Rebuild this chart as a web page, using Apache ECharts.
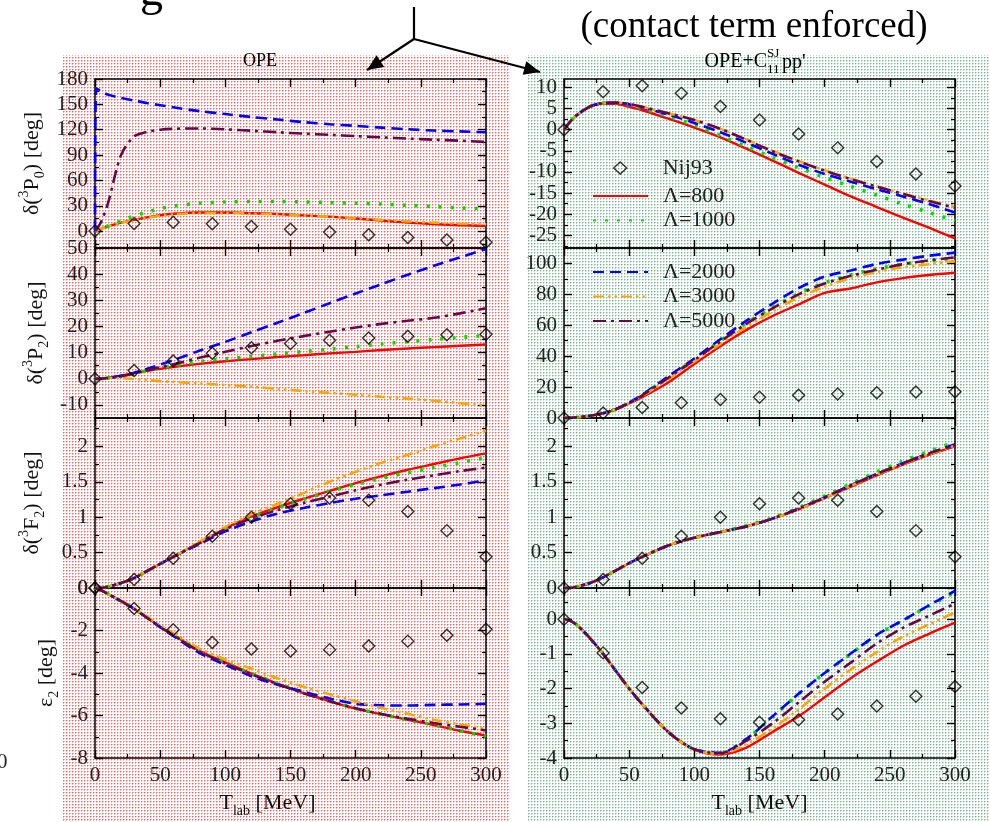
<!DOCTYPE html>
<html><head><meta charset="utf-8">
<script src="https://cdn.jsdelivr.net/npm/echarts@6/dist/echarts.min.js"></script>
<style>html,body{margin:0;padding:0;background:#fff}#c{width:990px;height:822px}</style>
</head><body><div id="c"></div>
<script>
// ---------------- DATA ----------------
const T = [0,1,5,10,20,30,40,50,60,80,100,120,140,160,180,200,220,240,260,280,300];
const T_NIJ = [0,30,60,90,120,150,180,210,240,270,300];
const CUTOFF_NAMES = ['Λ=800','Λ=1000','Λ=2000','Λ=3000','Λ=5000'];
const NIJ_NAME = 'Nij93';

const NIJ93_3P0 = [0, 9.0, 10.4, 8.6, 5.5, 2.3, -1.0, -4.3, -7.5, -10.5, -13.3];
const NIJ93_3P2 = [0, 3.2, 6.8, 9.8, 11.9, 13.5, 14.7, 15.6, 16.3, 16.8, 17.0];
const NIJ93_3F2 = [0, 0.12, 0.42, 0.73, 1.0, 1.19, 1.27, 1.24, 1.08, 0.81, 0.44];
const NIJ93_E2  = [0, -0.97, -1.97, -2.56, -2.87, -2.97, -2.9, -2.73, -2.5, -2.22, -1.94];

// OPE (left column)
const OPE_3P0_800  = [0,0.6,3,5.5,10,13.2,16.3,18.8,20.5,22,22,21.2,20.2,18.6,17.1,14.9,12.4,10.2,8.3,7,6];
const OPE_3P0_1000 = [0,0.6,3,6,12,18,22.5,26.5,29.5,33,34.5,35,35,34.5,33.7,33,32,30.5,29,27.5,26.2];
const OPE_3P0_2000 = [0,169,165,161.5,157.5,154.5,151.5,149,146.5,142,138.5,135,132,129,126.5,124.5,122.5,120.5,119,118,117];
const OPE_3P0_3000 = [0,0.6,3,5.5,9.8,13,15.8,18.2,19.8,21.3,21.3,20.7,19.8,18.5,17,15.3,13.3,11.5,10,8.8,8.2];
const OPE_3P0_5000 = [0,1.5,12,33,90,112,117.5,120,121,121.5,120.5,118.8,117,115.4,113.9,112.4,111,109.5,108.2,107,105.5];

const OPE_3P2_800  = [0,0,0.1,0.4,1.2,2.2,3.0,3.8,4.5,5.7,6.7,7.5,8.3,9.0,9.7,10.3,11.0,11.6,12.1,12.6,13.1];
const OPE_3P2_1000 = [0,0,0.1,0.3,1.0,2.0,3.1,4.1,5.0,6.6,7.6,8.5,9.5,10.4,11.3,12.3,13.3,14.2,15.0,15.8,16.5];
const OPE_3P2_2000 = [0,0,0.1,0.3,1.1,2.3,3.8,5.4,7.1,10.7,14.1,17.8,21.4,25.1,28.9,32.6,36.2,39.8,43.2,46.4,49.6];
const OPE_3P2_3000 = [0,0,0.2,0.3,0.2,-0.1,-0.5,-0.9,-1.2,-1.8,-2.4,-3.0,-3.9,-4.7,-5.4,-6.1,-6.9,-7.6,-8.4,-9.3,-10.2];
const OPE_3P2_5000 = [0,0,0.1,0.3,1.0,2.0,3.2,4.4,5.5,8.0,10.3,12.5,14.5,16.3,18.0,19.6,21.0,22.2,23.3,25.0,27.0];

const OPE_3F2_800  = [0,0,0,0.02,0.07,0.14,0.24,0.34,0.44,0.64,0.84,1.01,1.14,1.26,1.37,1.48,1.58,1.67,1.75,1.83,1.9];
const OPE_3F2_1000 = [0,0,0,0.02,0.07,0.14,0.24,0.34,0.44,0.64,0.84,1.0,1.13,1.25,1.36,1.46,1.55,1.63,1.7,1.77,1.84];
const OPE_3F2_2000 = [0,0,0,0.02,0.07,0.14,0.24,0.34,0.44,0.62,0.8,0.94,1.05,1.13,1.2,1.26,1.31,1.36,1.41,1.46,1.52];
const OPE_3F2_3000 = [0,0,0,0.02,0.07,0.14,0.24,0.34,0.44,0.65,0.86,1.04,1.19,1.34,1.5,1.64,1.77,1.88,2.0,2.11,2.22];
const OPE_3F2_5000 = [0,0,0,0.02,0.07,0.14,0.24,0.34,0.44,0.63,0.83,0.98,1.1,1.2,1.29,1.38,1.46,1.53,1.59,1.65,1.7];

const OPE_E2_800  = [0,-0.02,-0.12,-0.28,-0.62,-0.98,-1.4,-1.82,-2.2,-2.95,-3.5,-4.03,-4.5,-4.95,-5.33,-5.68,-5.95,-6.2,-6.45,-6.72,-6.95];
const OPE_E2_1000 = [0,-0.02,-0.12,-0.28,-0.62,-0.98,-1.4,-1.82,-2.2,-2.95,-3.5,-4.02,-4.48,-4.93,-5.32,-5.67,-5.95,-6.2,-6.45,-6.72,-6.98];
const OPE_E2_2000 = [0,-0.02,-0.12,-0.28,-0.62,-0.98,-1.4,-1.84,-2.25,-3.05,-3.62,-4.15,-4.55,-4.88,-5.2,-5.45,-5.52,-5.53,-5.5,-5.48,-5.45];
const OPE_E2_3000 = [0,-0.02,-0.12,-0.28,-0.6,-0.95,-1.35,-1.76,-2.12,-2.85,-3.35,-3.8,-4.25,-4.65,-5.0,-5.33,-5.65,-5.92,-6.2,-6.42,-6.62];
const OPE_E2_5000 = [0,-0.02,-0.12,-0.28,-0.62,-0.98,-1.4,-1.84,-2.22,-2.98,-3.55,-4.07,-4.52,-4.95,-5.33,-5.66,-5.93,-6.15,-6.35,-6.53,-6.7];

// OPE + C11 pp' (right column)
const CT_3P0_800  = [0,0.4,2.0,3.5,5.4,6.2,6.1,5.4,4.6,2.6,0.5,-1.8,-4.5,-7.3,-10.2,-13.0,-15.8,-18.3,-20.8,-23.2,-25.7];
const CT_3P0_1000 = [0,0.4,2.0,3.5,5.5,6.3,6.4,5.9,5.0,3.2,1.1,-1.4,-4.0,-6.6,-9.0,-11.3,-13.4,-15.5,-17.6,-19.6,-21.5];
const CT_3P0_2000 = [0,0.4,2.0,3.5,5.5,6.3,6.4,6.0,5.2,3.6,1.6,-0.6,-3.1,-5.7,-8.3,-10.5,-12.3,-14.1,-15.8,-17.6,-19.6];
const CT_3P0_3000 = [0,0.4,2.0,3.5,5.5,6.3,6.4,6.1,5.4,3.9,2.3,0.2,-2.3,-5.0,-7.4,-9.6,-11.6,-13.4,-15.1,-16.7,-18.3];
const CT_3P0_5000 = [0,0.4,2.0,3.5,5.5,6.3,6.4,6.1,5.4,3.9,2.3,0.2,-2.4,-5.1,-7.5,-9.7,-11.7,-13.5,-15.2,-16.9,-18.5];

const CT_3P2_800  = [0,0,0.1,0.4,1.4,3.0,5.6,9.4,13.5,23,35,46.5,57,66,73.5,81,83.8,87.8,90.5,92.5,94];
const CT_3P2_1000 = [0,0,0.1,0.4,1.4,3.1,5.8,9.9,14.8,26.5,37.8,50,61.5,71.5,80.5,87.5,92.5,96.5,99.5,101.5,103.5];
const CT_3P2_2000 = [0,0,0.1,0.4,1.4,3.1,5.9,10,15,27,38.5,51,63,74,84,91.5,95.5,99.7,102.5,105,107];
const CT_3P2_3000 = [0,0,0.1,0.4,1.4,3.0,5.7,9.6,14.3,25,36.5,48,59,69,78,85,90.5,94.5,97.5,99.5,101.5];
const CT_3P2_5000 = [0,0,0.1,0.4,1.4,3.1,5.8,9.8,14.7,26,37.5,49.5,61,71,80,87,92,96,99.5,102,104];

const CT_3F2_800  = [0,0,0,0.02,0.07,0.15,0.25,0.35,0.44,0.6,0.71,0.79,0.87,0.98,1.11,1.27,1.43,1.59,1.74,1.88,2.0];
const CT_3F2_1000 = [0,0,0,0.02,0.07,0.15,0.25,0.35,0.44,0.6,0.71,0.79,0.88,0.99,1.13,1.3,1.47,1.64,1.79,1.93,2.06];
const CT_3F2_2000 = [0,0,0,0.02,0.07,0.15,0.25,0.35,0.44,0.6,0.71,0.79,0.87,0.98,1.12,1.28,1.45,1.61,1.76,1.9,2.03];
const CT_3F2_3000 = [0,0,0,0.02,0.07,0.15,0.25,0.35,0.44,0.6,0.71,0.79,0.87,0.98,1.11,1.27,1.44,1.6,1.75,1.89,2.01];
const CT_3F2_5000 = [0,0,0,0.02,0.07,0.15,0.25,0.35,0.44,0.6,0.71,0.79,0.87,0.98,1.12,1.28,1.45,1.61,1.76,1.9,2.02];

const CT_E2_800  = [0,0,-0.05,-0.17,-0.55,-1.0,-1.5,-2.0,-2.45,-3.25,-3.76,-3.9,-3.7,-3.25,-2.8,-2.25,-1.7,-1.22,-0.77,-0.42,-0.1];
const CT_E2_1000 = [0,0,-0.05,-0.17,-0.55,-1.0,-1.5,-2.0,-2.45,-3.25,-3.75,-3.85,-3.45,-2.82,-2.15,-1.55,-1.0,-0.46,-0.04,0.38,0.78];
const CT_E2_2000 = [0,0,-0.05,-0.17,-0.55,-1.0,-1.5,-2.0,-2.45,-3.25,-3.75,-3.85,-3.45,-2.8,-2.15,-1.55,-0.99,-0.45,-0.03,0.4,0.82];
const CT_E2_3000 = [0,0,-0.05,-0.17,-0.55,-1.0,-1.5,-2.0,-2.45,-3.25,-3.76,-3.88,-3.6,-3.15,-2.6,-2.0,-1.45,-0.95,-0.5,-0.15,0.2];
const CT_E2_5000 = [0,0,-0.05,-0.17,-0.55,-1.0,-1.5,-2.0,-2.45,-3.25,-3.75,-3.86,-3.5,-3.0,-2.4,-1.8,-1.25,-0.7,-0.25,0.1,0.45];

// axis tick values
const Y_RANGE_L = [[-20,180],[-15,50],[0,2.4],[-8,0]];
const Y_RANGE_R = [[-28,12],[0,110],[0,2.4],[-4,0.9]];
const Y_MAJOR_L = [[0,30,60,90,120,150,180],[-10,0,10,20,30,40,50],[0,0.5,1,1.5,2],[-8,-6,-4,-2,0]];
const Y_MINOR_L = [[-15,15,45,75,105,135,165],[-5,5,15,25,35,45],[0.25,0.75,1.25,1.75,2.25],[-7,-5,-3,-1]];
const Y_MAJOR_R = [[-25,-20,-15,-10,-5,0,5,10],[0,20,40,60,80,100],[0,0.5,1,1.5,2],[-4,-3,-2,-1,0]];
const Y_MINOR_R = [[-27.5,-22.5,-17.5,-12.5,-7.5,-2.5,2.5,7.5],[10,30,50,70,90],[0.25,0.75,1.25,1.75,2.25],[-3.5,-2.5,-1.5,-0.5,0.5]];

// ---------------- LAYOUT / STYLE ----------------
const FONT = 'Liberation Serif';
const GRID_X = [95, 564], GRID_W = 391;
const ROW_Y = [79, 248, 418, 588], ROW_H = [169, 170, 170, 170];
const STY = [
  {color:'#ff0000', type:'solid', width:2.4},
  {color:'#00e000', type:[3,9], width:3.6},
  {color:'#0000ff', type:[11,6], width:2.6},
  {color:'#ffa500', type:[11,4,2.5,4,2.5,4], width:2.6},
  {color:'#670748', type:[13,5,3,5], width:2.6}
];

const LEFT_SETS = [
  [OPE_3P0_800,OPE_3P0_1000,OPE_3P0_2000,OPE_3P0_3000,OPE_3P0_5000],
  [OPE_3P2_800,OPE_3P2_1000,OPE_3P2_2000,OPE_3P2_3000,OPE_3P2_5000],
  [OPE_3F2_800,OPE_3F2_1000,OPE_3F2_2000,OPE_3F2_3000,OPE_3F2_5000],
  [OPE_E2_800,OPE_E2_1000,OPE_E2_2000,OPE_E2_3000,OPE_E2_5000]
];
const RIGHT_SETS = [
  [CT_3P0_800,CT_3P0_1000,CT_3P0_2000,CT_3P0_3000,CT_3P0_5000],
  [CT_3P2_800,CT_3P2_1000,CT_3P2_2000,CT_3P2_3000,CT_3P2_5000],
  [CT_3F2_800,CT_3F2_1000,CT_3F2_2000,CT_3F2_3000,CT_3F2_5000],
  [CT_E2_800,CT_E2_1000,CT_E2_2000,CT_E2_3000,CT_E2_5000]
];
const NIJ_SETS = [NIJ93_3P0, NIJ93_3P2, NIJ93_3F2, NIJ93_E2];
const Y_NAMES = [
  '{t|δ(}{sup|3}{t|P}{sub|0}{t|) [deg]}',
  '{t|δ(}{sup|3}{t|P}{sub|2}{t|) [deg]}',
  '{t|δ(}{sup|3}{t|F}{sub|2}{t|) [deg]}',
  '{t|ε}{sub|2}{t| [deg]}'
];
const Y_NAME_GAP = [48, 44, 48, 34];

const grids = [], xAxes = [], yAxes = [], series = [];
const lblStyle = {fontFamily:FONT, fontSize:21, color:'#222'};
const richName = {
  t:{fontFamily:FONT, fontSize:22, color:'#111', lineHeight:30},
  sup:{fontFamily:FONT, fontSize:14, color:'#111', verticalAlign:'top', lineHeight:30},
  sub:{fontFamily:FONT, fontSize:14, color:'#111', verticalAlign:'bottom', lineHeight:30}
};
const axLine = {show:true, onZero:false, lineStyle:{color:'#000', width:1.5}};
const NIJ_ITEM = {color:'rgba(0,0,0,0)', borderColor:'#000', borderWidth:1.4};

function addPanel(col, row) {
  const g = grids.length;
  grids.push({left:GRID_X[col], top:ROW_Y[row], width:GRID_W, height:ROW_H[row]});
  const bottom = row === 3;
  const xi = xAxes.length;
  const xBase = {gridIndex:g, type:'value', min:0, max:300, interval:50, splitLine:{show:false},
    axisLine:axLine, axisTick:{show:true, inside:true, length:8, lineStyle:{color:'#000', width:1.4}},
    minorTick:{show:true, splitNumber:2, length:4, lineStyle:{color:'#000', width:1.2}}};
  xAxes.push(Object.assign({}, xBase, {position:'bottom',
    axisLabel:{show:bottom, margin:7, ...lblStyle, fontSize:21},
    name: bottom ? '{t|T}{sub|lab}{t| [MeV]}' : '', nameLocation:'middle', nameGap:30,
    nameTextStyle:{rich:richName, padding: col===0 ? [0,46,0,0] : [0,0,0,0]}}));
  xAxes.push(Object.assign({}, xBase, {position:'top', axisLabel:{show:false}}));
  const yr = col===0 ? Y_RANGE_L[row] : Y_RANGE_R[row];
  const maj = col===0 ? Y_MAJOR_L[row] : Y_MAJOR_R[row];
  const mnr = col===0 ? Y_MINOR_L[row] : Y_MINOR_R[row];
  const yi = yAxes.length;
  ['left','right'].forEach(pos => {
    yAxes.push({gridIndex:g, type:'value', min:yr[0], max:yr[1], position:pos, splitLine:{show:false},
      axisLine:axLine,
      axisTick:{show:true, inside:true, length:8, customValues:maj, lineStyle:{color:'#000', width:1.4}},
      axisLabel:{show:pos==='left', customValues:maj, margin:7, ...lblStyle, formatter:v=>String(v)},
      name:(pos==='left' && col===0) ? Y_NAMES[row] : '', nameLocation:'middle', nameGap:Y_NAME_GAP[row],
      nameTextStyle:{rich:richName}});
    yAxes.push({gridIndex:g, type:'value', min:yr[0], max:yr[1], position:pos, splitLine:{show:false},
      axisLine:{show:false, onZero:false},
      axisTick:{show:true, inside:true, length:4, customValues:mnr, lineStyle:{color:'#000', width:1.2}},
      axisLabel:{show:false}});
  });
  series.push({type:'scatter', name:NIJ_NAME, xAxisIndex:xi, yAxisIndex:yi, symbol:'diamond', symbolSize:12,
    itemStyle:NIJ_ITEM, clip:false, z:6,
    data:T_NIJ.map((t,i)=>[t, NIJ_SETS[row][i]])});
  const sets = col===0 ? LEFT_SETS[row] : RIGHT_SETS[row];
  sets.forEach((arr, k) => {
    series.push({type:'line', name:CUTOFF_NAMES[k], xAxisIndex:xi, yAxisIndex:yi, symbol:'none', showSymbol:false,
      smooth:0.3, lineStyle:STY[k], itemStyle:{color:STY[k].color}, z:3,
      data:T.map((t,i)=>[t, arr[i]])});
  });
}
for (let col=0; col<2; col++) for (let row=0; row<4; row++) addPanel(col,row);

// background patterns
function makePattern(dark, light) {
  const c = document.createElement('canvas'); c.width = 3; c.height = 3;
  const ctx = c.getContext('2d');
  ctx.fillStyle = '#ffffff'; ctx.fillRect(0,0,3,3);
  ctx.fillStyle = dark; ctx.fillRect(0,0,1,1);
  ctx.fillStyle = light; ctx.fillRect(1,0,1,1); ctx.fillRect(0,1,1,1);
  return c;
}
const pinkPat = makePattern('#ee6a6a', '#f7b4b4');
const greenPat = makePattern('#7fb597', '#c0dccb');

function arrowHead(tip, from, len, half) {
  const dx = tip[0]-from[0], dy = tip[1]-from[1], L = Math.hypot(dx,dy);
  const ux = dx/L, uy = dy/L, bx = tip[0]-len*ux, by = tip[1]-len*uy;
  return [[tip[0],tip[1]],[bx - half*uy, by + half*ux],[bx + half*uy, by - half*ux]];
}
const J = [414, 39], TIP_L = [367, 70], TIP_R = [540, 72];
const txt = (text, x, y, size, align, valign, extra) => ({type:'text', silent:true, z:10,
  style:Object.assign({text, x, y, font:size+'px "'+FONT+'"', fill:'#000',
    textAlign:align, align:align, textVerticalAlign:valign, verticalAlign:valign}, extra||{})});

const graphic = [
  {type:'rect', silent:true, z:-10, shape:{x:62, y:55, width:448, height:767}, style:{fill:{image:pinkPat, repeat:'repeat'}}},
  {type:'rect', silent:true, z:-10, shape:{x:527, y:55, width:463, height:767}, style:{fill:{image:greenPat, repeat:'repeat'}}},
  txt('(contact term enforced)', 754, 27, 37, 'center', 'middle'),
  txt('g', 140, 16, 46, 'left', 'bottom'),
  txt('0', -3, 762, 21, 'left', 'middle', {fill:'#222'}),
  txt('OPE', 260, 61, 18, 'center', 'middle'),
  txt('OPE+C', 767, 62, 20, 'right', 'middle'),
  txt('SJ', 767, 54, 13, 'left', 'middle'),
  txt('11', 767, 70, 13, 'left', 'middle'),
  txt("pp'", 782, 63, 20, 'left', 'middle'),
  {type:'polyline', silent:true, z:10, shape:{points:[[414,7],J]}, style:{stroke:'#000', lineWidth:2.2, fill:null}},
  {type:'polyline', silent:true, z:10, shape:{points:[J, TIP_L]}, style:{stroke:'#000', lineWidth:2.2, fill:null}},
  {type:'polyline', silent:true, z:10, shape:{points:[J, TIP_R]}, style:{stroke:'#000', lineWidth:2.2, fill:null}},
  {type:'polygon', silent:true, z:10, shape:{points:arrowHead(TIP_L, J, 16, 7)}, style:{fill:'#000'}},
  {type:'polygon', silent:true, z:10, shape:{points:arrowHead(TIP_R, J, 16, 7)}, style:{fill:'#000'}}
];

const hideSym = name => ({name, itemStyle:{opacity:0}});
const legendBase = {orient:'vertical', left:592, padding:0, itemWidth:55, itemHeight:13, itemGap:2.5, selectedMode:false,
  textStyle:{fontFamily:FONT, fontSize:22, color:'#222', lineHeight:22, padding:[0,0,0,10]}};
const option = {
  animation:false,
  backgroundColor:'#fff',
  grid:grids, xAxis:xAxes, yAxis:yAxes, series:series, graphic:graphic,
  legend:[
    Object.assign({}, legendBase, {top:157, left:613, itemWidth:13, itemHeight:12,
      textStyle:Object.assign({}, legendBase.textStyle, {padding:[0,0,0,31]}),
      data:[{name:NIJ_NAME, itemStyle:NIJ_ITEM}]}),
    Object.assign({}, legendBase, {top:185, data:[hideSym(CUTOFF_NAMES[0]), hideSym(CUTOFF_NAMES[1])]}),
    Object.assign({}, legendBase, {top:261, data:[hideSym(CUTOFF_NAMES[2]), hideSym(CUTOFF_NAMES[3]), hideSym(CUTOFF_NAMES[4])]})
  ]
};
const chart = echarts.init(document.getElementById('c'), null, {renderer:'canvas'});
chart.setOption(option);
</script>
</body></html>
